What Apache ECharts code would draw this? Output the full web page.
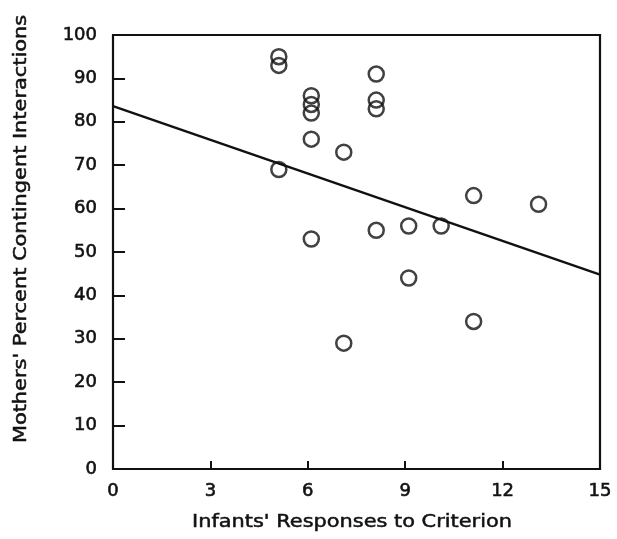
<!DOCTYPE html>
<html>
<head>
<meta charset="utf-8">
<script src="https://cdn.jsdelivr.net/npm/echarts@6/dist/echarts.min.js"></script>
<style>
  html, body { margin: 0; padding: 0; background: #fff; }
  #chart { width: 617px; height: 539px; }
</style>
</head>
<body>
<div id="chart"></div>
<script>
// Infant responses (x) vs. mothers' percent contingent interactions (y)
const infantResponses = [5, 5, 5, 6, 6, 6, 6, 6, 7, 7, 8, 8, 8, 8, 9, 9, 10, 11, 11, 13];
const motherPercent   = [95, 93, 69, 86, 84, 82, 76, 53, 73, 29, 91, 85, 83, 55, 56, 44, 56, 63, 34, 61];

// Fitted regression line end points
const fitX = [0, 15];
const fitY = [83.6, 44.8];

const xTicks = [0, 3, 6, 9, 12, 15];
const yTicks = [0, 10, 20, 30, 40, 50, 60, 70, 80, 90, 100];

const xTitle = "Infants' Responses to Criterion";
const yTitle = "Mothers' Percent Contingent Interactions";

const font = 'DejaVu Sans';
const ink = '#111';

// Slightly heavier glyphs, like a pen-plotter lettering
const heavy = { textBorderColor: ink, textBorderWidth: 0.6 };

const chart = echarts.init(document.getElementById('chart'), null, { renderer: 'canvas' });

chart.setOption({
  animation: false,
  backgroundColor: '#fff',
  grid: {
    left: 113, right: 17, top: 35, bottom: 70,
    show: true, borderColor: ink, borderWidth: 2.2, backgroundColor: 'transparent'
  },
  xAxis: {
    type: 'value', min: xTicks[0], max: xTicks[xTicks.length - 1], interval: 3,
    axisLine: { show: false },
    axisTick: { show: true, inside: true, length: 8, lineStyle: { color: ink, width: 2 } },
    axisLabel: Object.assign({ fontFamily: font, fontSize: 18, color: ink, margin: 13,
      formatter: v => xTicks.includes(v) ? String(v) : '' }, heavy),
    splitLine: { show: false }
  },
  yAxis: {
    type: 'value', min: yTicks[0], max: yTicks[yTicks.length - 1], interval: 10,
    axisLine: { show: false },
    axisTick: { show: true, inside: true, length: 12, lineStyle: { color: ink, width: 2 } },
    axisLabel: Object.assign({ fontFamily: font, fontSize: 18, color: ink, margin: 16,
      formatter: v => yTicks.includes(v) ? String(v) : '' }, heavy),
    splitLine: { show: false }
  },
  graphic: [
    {
      type: 'text', x: 352, y: 522, scaleX: 1.16,
      style: Object.assign({ text: xTitle, font: '18px "DejaVu Sans"', fill: ink,
        align: 'center', verticalAlign: 'middle', textAlign: 'center', textVerticalAlign: 'middle',
        stroke: ink, lineWidth: 0.5 })
    },
    {
      type: 'text', x: 21, y: 229, rotation: Math.PI / 2, scaleX: 1.16,
      style: Object.assign({ text: yTitle, font: '18px "DejaVu Sans"', fill: ink,
        align: 'center', verticalAlign: 'middle', textAlign: 'center', textVerticalAlign: 'middle',
        stroke: ink, lineWidth: 0.5 })
    }
  ],
  series: [
    {
      type: 'line',
      data: fitX.map((x, i) => [x, fitY[i]]),
      symbol: 'none',
      lineStyle: { color: ink, width: 2.4 },
      silent: true,
      z: 2
    },
    {
      type: 'scatter',
      data: infantResponses.map((x, i) => [x, motherPercent[i]]),
      symbol: 'circle',
      symbolSize: 15,
      symbolOffset: [3.5, 0],
      itemStyle: { color: 'rgba(255,255,255,0)', borderColor: ink, borderWidth: 2.5 },
      z: 3
    }
  ]
});
</script>
</body>
</html>
